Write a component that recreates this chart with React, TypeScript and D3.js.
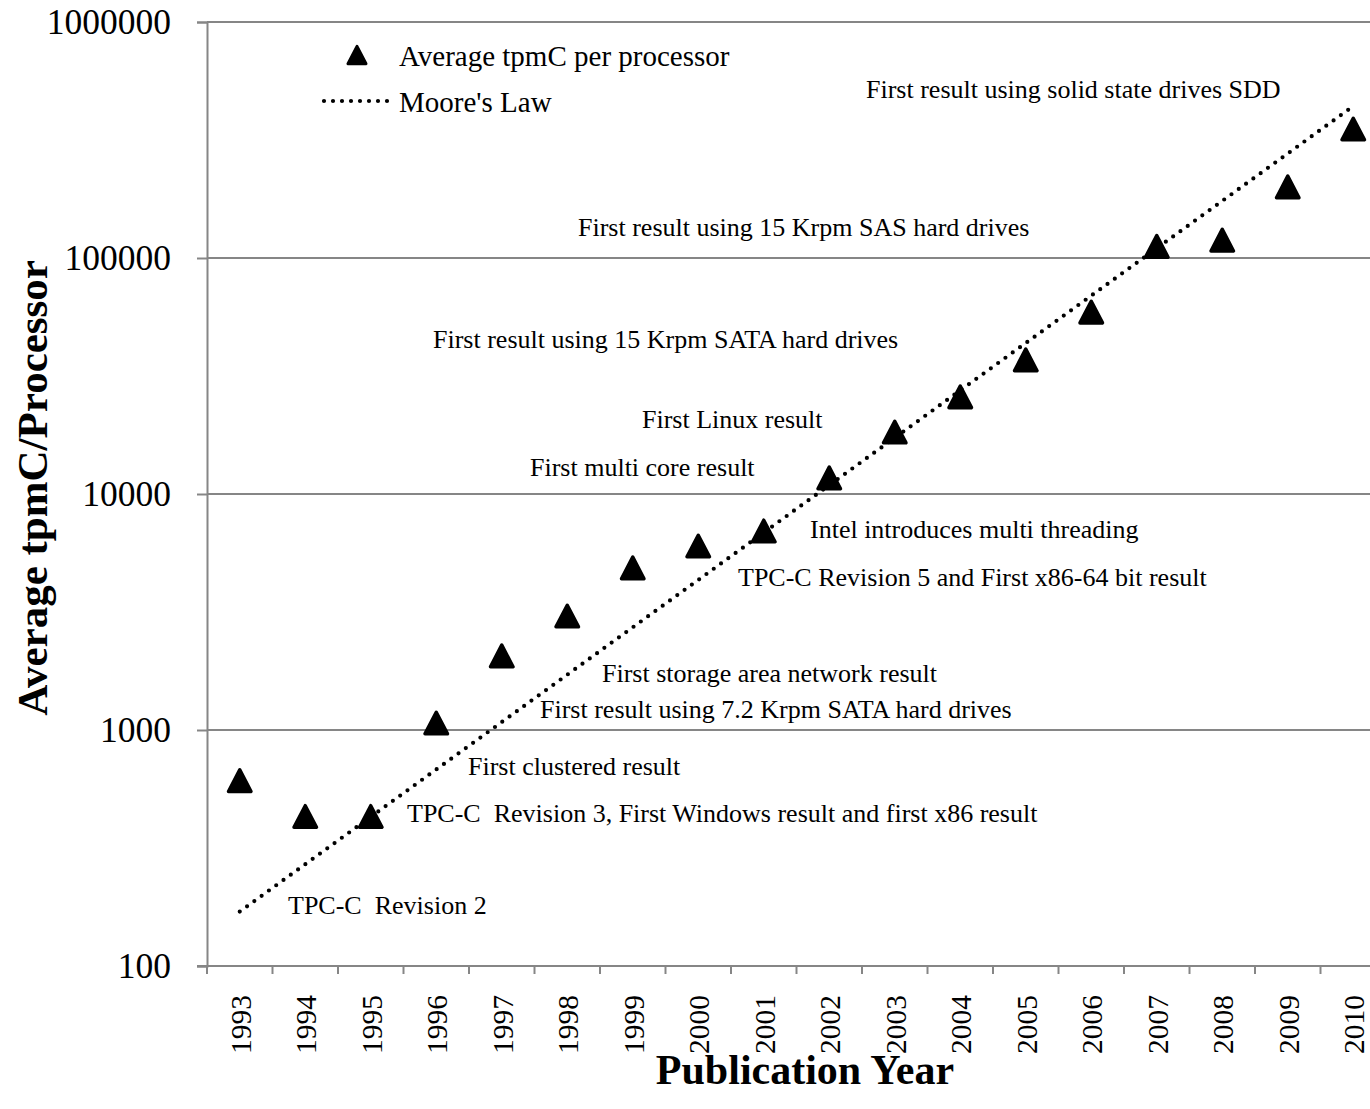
import * as d3 from 'd3';
import React, { useEffect, useRef } from 'react';

const years: string[] = [
  '1993', '1994', '1995', '1996', '1997', '1998', '1999', '2000', '2001',
  '2002', '2003', '2004', '2005', '2006', '2007', '2008', '2009', '2010',
];
const avgTpmc: number[] = [
  610, 430, 430, 1070, 2060, 3040, 4860, 6020, 6970,
  11700, 18300, 25800, 37000, 59000, 112000, 119000, 200000, 352000,
];
// Moore's law trend, drawn between first and last year
const mooreYears: string[] = ['1993', '2010'];
const mooreValues: number[] = [170, 440000];
const yTicks: number[] = [100, 1000, 10000, 100000, 1000000];

// annotation labels (text + left x / baseline y in px)
const notes: [string, number, number][] = [
  ['First result using solid state drives SDD', 866, 98],
  ['First result using 15 Krpm SAS hard drives', 578, 236],
  ['First result using 15 Krpm SATA hard drives', 433, 348],
  ['First Linux result', 642, 428],
  ['First multi core result', 530, 476],
  ['Intel introduces multi threading', 810, 538],
  ['TPC-C Revision 5 and First x86-64 bit result', 738, 586],
  ['First storage area network result', 602, 682],
  ['First result using 7.2 Krpm SATA hard drives', 540, 718],
  ['First clustered result', 468, 775],
  ['TPC-C  Revision 3, First Windows result and first x86 result', 407, 822],
  ['TPC-C  Revision 2', 288, 914],
];

const W = 1370;
const H = 1109;
const left = 207;
const top = 22;
const bottom = 966;
const right = 1386;
const FONT = '"Liberation Serif", "DejaVu Serif", serif';

const triPath = (s: number) =>
  `M0,${-s * 0.48}L${s * 0.5},${s * 0.48}L${-s * 0.5},${s * 0.48}Z`;

export default function App() {
  const ref = useRef<SVGGElement>(null);

  useEffect(() => {
    const g = d3.select(ref.current);
    g.selectAll('*').remove();

    const x = d3.scaleBand<string>().domain(years).range([left, right]).padding(0);
    const y = d3.scaleLog().domain([100, 1000000]).range([bottom, top]);
    const cx = (d: string) => (x(d) as number) + x.bandwidth() / 2;

    // gridlines
    g.selectAll('line.grid')
      .data(yTicks.slice(1))
      .join('line')
      .attr('x1', left)
      .attr('x2', W)
      .attr('y1', (d) => y(d))
      .attr('y2', (d) => y(d))
      .attr('stroke', '#868686')
      .attr('stroke-width', 2);

    // y axis
    const yAxis = d3.axisLeft(y).tickValues(yTicks).tickFormat((d) => String(d)).tickSize(10).tickPadding(26);
    const ya = g.append('g').attr('transform', `translate(${left},0)`).call(yAxis);
    ya.select('.domain').attr('stroke', '#868686').attr('stroke-width', 2);
    ya.selectAll('.tick line').attr('stroke', '#868686').attr('stroke-width', 2);
    ya.selectAll('.tick text')
      .attr('font-family', FONT)
      .attr('font-size', 35.5)
      .attr('fill', '#000');

    // x axis with boundary ticks
    const xa = g.append('g');
    xa.append('line')
      .attr('x1', left - 10)
      .attr('x2', W)
      .attr('y1', bottom)
      .attr('y2', bottom)
      .attr('stroke', '#868686')
      .attr('stroke-width', 2);
    xa.selectAll('line.tk')
      .data(years)
      .join('line')
      .attr('x1', (d) => x(d) as number)
      .attr('x2', (d) => x(d) as number)
      .attr('y1', bottom)
      .attr('y2', bottom + 8)
      .attr('stroke', '#868686')
      .attr('stroke-width', 2);
    xa.selectAll('text')
      .data(years)
      .join('text')
      .attr('transform', (d) => `translate(${cx(d) + 11},${bottom + 29}) rotate(-90)`)
      .attr('text-anchor', 'end')
      .attr('font-family', FONT)
      .attr('font-size', 29.5)
      .text((d) => d);

    // Moore's law
    const line = d3
      .line<number>()
      .x((_, i) => cx(mooreYears[i]))
      .y((d) => y(d));
    g.append('path')
      .attr('d', line(mooreValues))
      .attr('fill', 'none')
      .attr('stroke', '#000')
      .attr('stroke-width', 4.2)
      .attr('stroke-linecap', 'round')
      .attr('stroke-dasharray', '0 9');

    // markers
    g.selectAll('path.tri')
      .data(avgTpmc)
      .join('path')
      .attr('class', 'tri')
      .attr('transform', (d, i) => `translate(${cx(years[i])},${y(d)})`)
      .attr('d', triPath(22.5))
      .attr('fill', '#000')
      .attr('stroke', '#000')
      .attr('stroke-width', 3.5)
      .attr('stroke-linejoin', 'round');

    // annotations
    g.selectAll('text.note')
      .data(notes)
      .join('text')
      .attr('class', 'note')
      .attr('x', (d) => d[1])
      .attr('y', (d) => d[2])
      .attr('font-family', FONT)
      .attr('font-size', 26)
      .attr('xml:space', 'preserve')
      .style('white-space', 'pre')
      .text((d) => d[0]);

    // legend
    const lg = g.append('g');
    lg.append('path')
      .attr('transform', 'translate(357,55)')
      .attr('d', triPath(18))
      .attr('fill', '#000')
      .attr('stroke', '#000')
      .attr('stroke-width', 3)
      .attr('stroke-linejoin', 'round');
    lg.append('text')
      .attr('x', 399)
      .attr('y', 66)
      .attr('font-family', FONT)
      .attr('font-size', 29)
      .text('Average tpmC per processor');
    lg.append('line')
      .attr('x1', 324)
      .attr('x2', 388)
      .attr('y1', 101)
      .attr('y2', 101)
      .attr('stroke', '#000')
      .attr('stroke-width', 4.2)
      .attr('stroke-linecap', 'round')
      .attr('stroke-dasharray', '0 9');
    lg.append('text')
      .attr('x', 399)
      .attr('y', 112)
      .attr('font-family', FONT)
      .attr('font-size', 29)
      .text("Moore's Law");

    // axis titles
    g.append('text')
      .attr('x', 805)
      .attr('y', 1084)
      .attr('text-anchor', 'middle')
      .attr('font-family', FONT)
      .attr('font-weight', 'bold')
      .attr('font-size', 42)
      .text('Publication Year');
    g.append('text')
      .attr('transform', 'translate(47,488) rotate(-90)')
      .attr('text-anchor', 'middle')
      .attr('font-family', FONT)
      .attr('font-weight', 'bold')
      .attr('font-size', 43)
      .text('Average tpmC/Processor');
  }, []);

  return (
    <svg
      width={W}
      height={H}
      style={{ position: 'absolute', left: 0, top: 0, background: '#fff' }}
    >
      <g ref={ref} />
    </svg>
  );
}
